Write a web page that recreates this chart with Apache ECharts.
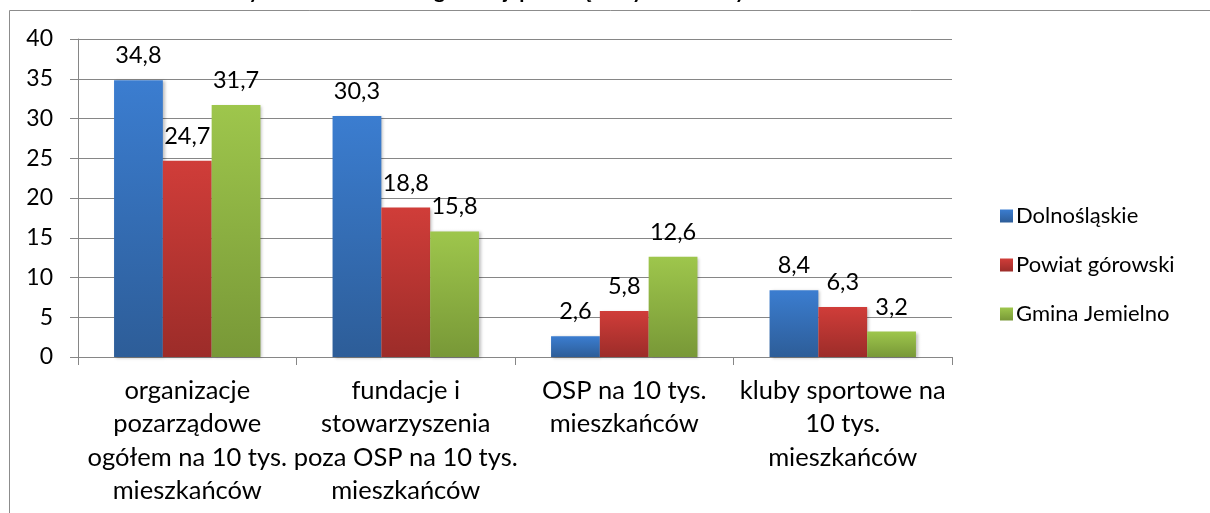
<!DOCTYPE html>
<html>
<head>
<meta charset="utf-8">
<script src="https://cdn.jsdelivr.net/npm/echarts@6/dist/echarts.min.js"></script>
<style>
html,body{margin:0;padding:0;background:#fff;}
#chart{width:1210px;height:513px;}
</style>
</head>
<body>
<div id="chart"></div>
<script>
const titleText = 'Wybrane wskaźniki organizacji pozarządowych na 10 tys. mieszkańców w 2012 r.';
const categories = [
  'organizacje\npozarządowe\nogółem na 10 tys.\nmieszkańców',
  'fundacje i\nstowarzyszenia\npoza OSP na 10 tys.\nmieszkańców',
  'OSP na 10 tys.\nmieszkańców',
  'kluby sportowe na\n10 tys.\nmieszkańców'
];
const seriesNames = ['Dolnośląskie', 'Powiat górowski', 'Gmina Jemielno'];
const dolnoslaskie = [34.8, 30.3, 2.6, 8.4];
const powiatGorowski = [24.7, 18.8, 5.8, 6.3];
const gminaJemielno = [31.7, 15.8, 12.6, 3.2];
const yTicks = {min: 0, max: 40, interval: 5};

const FONT = 'Lato';
function grad(top, bottom) {
  return new echarts.graphic.LinearGradient(0, 0, 0, 1, [
    {offset: 0, color: top}, {offset: 1, color: bottom}
  ]);
}
const colors = [
  grad('#3b7dd0', '#2d5d98'),
  grad('#d03d39', '#9c2c29'),
  grad('#9ec64c', '#789837')
];
const values = [dolnoslaskie, powiatGorowski, gminaJemielno];

const chart = echarts.init(document.getElementById('chart'), null, {renderer: 'canvas'});
chart.setOption({
  animation: false,
  backgroundColor: '#fff',
  title: {
    text: titleText,
    left: 'center',
    top: -19,
    padding: 0,
    textStyle: {fontFamily: FONT, fontWeight: 'bold', fontSize: 21, lineHeight: 21, color: '#000'}
  },
  graphic: [{
    type: 'rect',
    shape: {x: 9.5, y: 10.5, width: 1400, height: 700},
    style: {fill: 'none', stroke: '#8c8c8c', lineWidth: 1},
    silent: true
  }],
  legend: {
    orient: 'vertical',
    left: 995,
    top: 200,
    itemWidth: 13,
    itemHeight: 13,
    itemGap: 27,
    icon: 'rect',
    textStyle: {fontFamily: FONT, fontSize: 22, color: '#000', padding: [0, 0, 0, -2]},
    data: seriesNames
  },
  grid: {left: 78, right: 258, top: 39, bottom: 156, containLabel: false},
  xAxis: {
    type: 'category',
    data: categories,
    axisLine: {lineStyle: {color: '#868686'}},
    axisTick: {show: true, length: 8, lineStyle: {color: '#868686'}, alignWithLabel: false},
    axisLabel: {
      interval: 0, margin: 17, fontFamily: FONT, fontSize: 25.5, lineHeight: 33.5,
      color: '#000', align: 'center'
    }
  },
  yAxis: {
    type: 'value',
    min: yTicks.min, max: yTicks.max, interval: yTicks.interval,
    axisLine: {show: true, lineStyle: {color: '#868686'}},
    axisTick: {show: true, length: 8, lineStyle: {color: '#868686'}},
    splitLine: {lineStyle: {color: '#868686', width: 1}},
    axisLabel: {margin: 25, fontFamily: FONT, fontSize: 23, color: '#000'}
  },
  series: seriesNames.map((name, i) => ({
    name: name,
    type: 'bar',
    data: values[i],
    barGap: '0%',
    barCategoryGap: '33%',
    itemStyle: {
      color: colors[i],
      shadowColor: 'rgba(0,0,0,0.25)', shadowBlur: 3, shadowOffsetX: 2, shadowOffsetY: 1
    },
    label: {
      show: true, position: 'top', distance: 13,
      fontFamily: FONT, fontSize: 23.5, lineHeight: 23, color: '#000',
      formatter: p => String(p.value).replace('.', ',')
    }
  }))
});
</script>
</body>
</html>
